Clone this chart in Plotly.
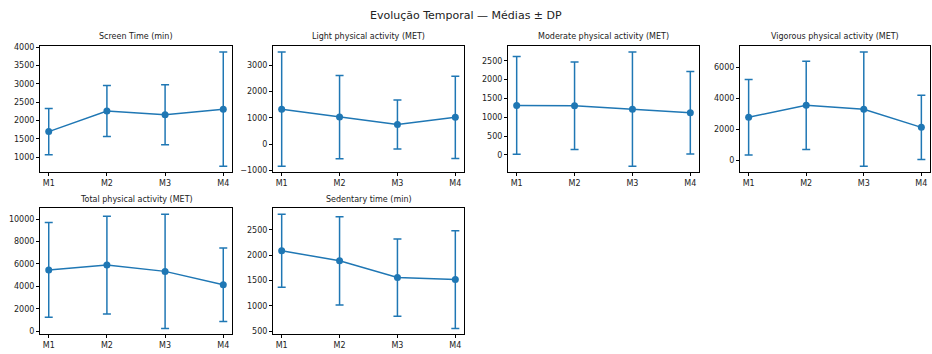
import plotly.graph_objects as go

moments = ["M1", "M2", "M3", "M4"]

titles = [
    "Screen Time (min)",
    "Light physical activity (MET)",
    "Moderate physical activity (MET)",
    "Vigorous physical activity (MET)",
    "Total physical activity (MET)",
    "Sedentary time (min)",
]

screen_mean = [1700, 2260, 2160, 2310]
screen_sd = [630, 690, 815, 1555]
light_mean = [1330, 1030, 750, 1020]
light_sd = [2170, 1580, 930, 1560]
moderate_mean = [1315, 1305, 1215, 1120]
moderate_sd = [1300, 1165, 1520, 1095]
vigorous_mean = [2780, 3550, 3300, 2130]
vigorous_sd = [2430, 2840, 3680, 2070]
total_mean = [5470, 5900, 5340, 4150]
total_sd = [4230, 4360, 5100, 3280]
sedentary_mean = [2090, 1890, 1560, 1520]
sedentary_sd = [720, 870, 760, 965]

tick_steps = [500, 1000, 500, 2000, 2000, 500]

series = [
    (screen_mean, screen_sd),
    (light_mean, light_sd),
    (moderate_mean, moderate_sd),
    (vigorous_mean, vigorous_sd),
    (total_mean, total_sd),
    (sedentary_mean, sedentary_sd),
]

W, H = 932, 354
col_px = [(40, 232), (273, 464), (508, 699), (740, 930)]
row_px = [(44, 172), (209, 337)]

def px_x(x):
    return x / W

def px_y(y):
    return 1 - y / H

BLUE = "#1f77b4"
FONT = "DejaVu Sans"
TXT = "#222"

fig = go.Figure()
layout = dict(
    width=W, height=H,
    margin=dict(l=0, r=0, t=0, b=0, pad=0),
    paper_bgcolor="white", plot_bgcolor="white",
    showlegend=False,
    font=dict(family=FONT, size=8, color=TXT),
    annotations=[],
)

for i, ((m, s), title, step) in enumerate(zip(series, titles, tick_steps)):
    r, c = divmod(i, 4)
    x0, x1 = col_px[c]
    yt, yb = row_px[r]
    n = i + 1
    xa = "x" if n == 1 else f"x{n}"
    ya = "y" if n == 1 else f"y{n}"
    fig.add_trace(go.Scatter(
        x=moments, y=m,
        error_y=dict(type="data", array=s, visible=True, color=BLUE, thickness=1.5, width=4),
        mode="lines+markers",
        line=dict(color=BLUE, width=1.5),
        marker=dict(color=BLUE, size=7),
        xaxis=xa, yaxis=ya,
        hoverinfo="skip",
    ))
    lo = min(a - b for a, b in zip(m, s))
    hi = max(a + b for a, b in zip(m, s))
    pad = (hi - lo) * 0.05
    common = dict(
        showline=True, mirror=True, linecolor="black", linewidth=1,
        ticks="outside", ticklen=3, tickcolor="black", tickwidth=1,
        showgrid=False, zeroline=False,
        tickfont=dict(family=FONT, size=8, color=TXT),
    )
    layout["xaxis" if n == 1 else f"xaxis{n}"] = dict(
        domain=[px_x(x0), px_x(x1)], anchor=ya, type="category",
        range=[-0.15, 3.15], **common,
    )
    layout["yaxis" if n == 1 else f"yaxis{n}"] = dict(
        domain=[px_y(yb), px_y(yt)], anchor=xa,
        range=[lo - pad, hi + pad], dtick=step, tick0=0, tickformat="d",
        **common,
    )
    layout["annotations"].append(dict(
        text=title, x=px_x((x0 + x1) / 2), y=px_y(yt - 3),
        xref="paper", yref="paper", xanchor="center", yanchor="bottom",
        showarrow=False, font=dict(family=FONT, size=8, color=TXT),
    ))

layout["annotations"].append(dict(
    text="Evolução Temporal — Médias ± DP", x=px_x(466), y=px_y(13),
    xref="paper", yref="paper", xanchor="center", yanchor="middle",
    showarrow=False, font=dict(family=FONT, size=11, color=TXT),
))

fig.update_layout(**layout)
fig.write_html(
    "out.html",
    config={"displayModeBar": False},
    post_script="document.body.style.margin='0';document.body.style.overflow='hidden';",
)
